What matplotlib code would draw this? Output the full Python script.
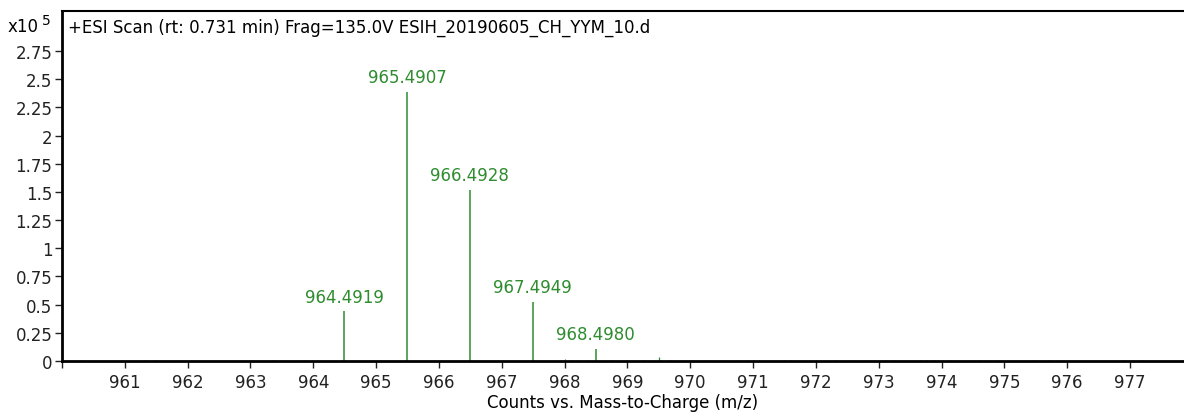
import matplotlib
matplotlib.use('Agg')
import numpy as np
import matplotlib.pyplot as plt

plt.rcParams['font.family'] = ['DejaVu Sans']

# labelled peaks (m/z, counts x1e5)
peak_mz = [964.4919, 965.4907, 966.4928, 967.4949, 968.4980]
peak_int = [0.44, 2.39, 1.52, 0.525, 0.107]
peak_labels = ["964.4919", "965.4907", "966.4928", "967.4949", "968.4980"]

# small unlabelled peaks / noise along the baseline
noise_mz = [960.3, 961.3, 961.5, 961.85, 963.0, 963.35, 963.5, 963.75, 963.85,
            968.0, 968.1, 968.2, 968.35, 968.75, 969.0, 969.25, 969.5, 969.7,
            970.0, 970.3, 970.5, 970.75, 970.9, 971.0, 971.1, 971.5, 971.6,
            972.0, 972.3, 972.55, 972.8, 973.1, 973.25, 973.65, 973.75, 973.9,
            974.15, 974.25, 974.5, 974.6, 974.75, 974.9, 975.45, 975.7, 975.85,
            976.9, 977.2]
noise_int = [0.01, 0.008, 0.01, 0.008, 0.01, 0.01, 0.008, 0.01, 0.008,
             0.015, 0.012, 0.012, 0.012, 0.01, 0.012, 0.01, 0.035, 0.01,
             0.012, 0.01, 0.01, 0.01, 0.012, 0.01, 0.01, 0.01, 0.01,
             0.01, 0.01, 0.01, 0.01, 0.01, 0.01, 0.01, 0.01, 0.01,
             0.012, 0.012, 0.01, 0.01, 0.01, 0.01, 0.01, 0.01, 0.01,
             0.01, 0.01]

x_ticks = list(range(961, 978))
y_ticks = [0, 0.25, 0.5, 0.75, 1, 1.25, 1.5, 1.75, 2, 2.25, 2.5, 2.75]
y_ticklabels = ["0", "0.25", "0.5", "0.75", "1", "1.25", "1.5", "1.75", "2", "2.25", "2.5", "2.75"]

green = '#2f8c2f'
fs = 12

fig = plt.figure(figsize=(11.84, 4.14), dpi=100)
ax = fig.add_axes([62/1184., 1 - 362/414., 1 - 62/1184., (362 - 12)/414.])

ax.vlines(noise_mz, 0, noise_int, color=green, linewidth=0.9)
ax.vlines(peak_mz, 0, peak_int, color=green, linewidth=1.1)
for mz, h, lab in zip(peak_mz, peak_int, peak_labels):
    ax.annotate(lab, (mz, h), xytext=(0, 4), textcoords='offset points',
                ha='center', va='bottom', color=green, fontsize=fs)

ax.set_xlim(960, 977.86)
ax.set_ylim(0, 3.106)
ax.set_xticks([960] + x_ticks)
ax.set_xticklabels([""] + [str(t) for t in x_ticks])
ax.set_yticks(y_ticks)
ax.set_yticklabels(y_ticklabels)
ax.tick_params(axis='both', direction='out', length=5, width=1, labelsize=fs, colors='#222222')
ax.tick_params(axis='x', pad=4)
ax.tick_params(axis='y', pad=2)

ax.spines['left'].set_linewidth(2)
ax.spines['bottom'].set_linewidth(2)
ax.spines['top'].set_linewidth(1.5)
ax.spines['right'].set_visible(False)

ax.set_xlabel('Counts vs. Mass-to-Charge (m/z)', fontsize=fs, labelpad=1)
ax.text(0.005, 0.98, '+ESI Scan (rt: 0.731 min) Frag=135.0V ESIH_20190605_CH_YYM_10.d',
        transform=ax.transAxes, ha='left', va='top', fontsize=fs)

fig.text(8/1184., 1 - 36/414., 'x10', fontsize=fs, ha='left', va='bottom')
fig.text(42/1184., 1 - 28/414., '5', fontsize=10, ha='left', va='bottom')

fig.savefig('out.png', dpi=100)
